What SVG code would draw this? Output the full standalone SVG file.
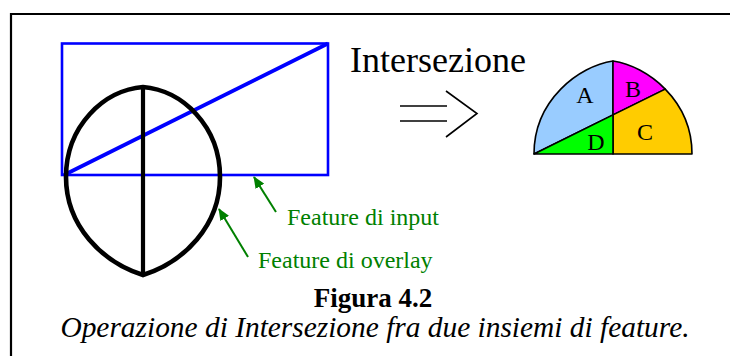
<svg xmlns="http://www.w3.org/2000/svg" width="730" height="356" viewBox="0 0 730 356">
<defs>
<style>
.serif{font-family:"Liberation Serif","Times New Roman",serif;}
.lbl{font-size:24px;fill:#000;text-anchor:middle;}
.green{fill:#008000;font-size:24px;}
.reg{stroke:#000;stroke-width:1.6;stroke-linejoin:round;}
</style>
<marker id="ah" viewBox="0 0 12 10" refX="11" refY="5" markerWidth="12" markerHeight="10" markerUnits="userSpaceOnUse" orient="auto">
<path d="M0,0 L12,5 L0,10 Z" fill="#008000"/>
</marker>
</defs>
<rect x="0" y="0" width="730" height="356" fill="#fff"/>
<path d="M11,358 V14 H732" fill="none" stroke="#000" stroke-width="2.2"/>

<g id="input-rect">
<rect x="62" y="43.5" width="266" height="131.5" fill="none" stroke="#0000ff" stroke-width="2.6"/>
<line x1="64" y1="175" x2="328" y2="43.5" stroke="#0000ff" stroke-width="3.8"/>
</g>

<g id="overlay-lens">
<path d="M143,87 C104,90 66,126 66,177 C66,226 102,262 143,275 C184,262 220,226 220,177 C220,126 182,90 143,87 Z" fill="none" stroke="#000" stroke-width="4.6" stroke-linejoin="miter"/>
<line x1="143" y1="87" x2="143" y2="275" stroke="#000" stroke-width="4.2"/>
</g>

<g id="title-intersezione">
<text x="350" y="72" class="serif" font-size="36" fill="#000">Intersezione</text>
</g>

<g id="double-arrow" fill="none" stroke="#000" stroke-width="1.6">
<line x1="400" y1="106" x2="447" y2="106"/>
<line x1="400" y1="121" x2="447" y2="121"/>
<polyline points="446,91 477,113.5 446,137"/>
</g>

<g id="result">
<path id="regA" class="reg" fill="#99ccff" d="M534,154 C534,100 579,66 613,61 L613,114.9 Z"/>
<path id="regB" class="reg" fill="#ff00ff" d="M613,61 C630,63.5 649.75,73.25 665.25,89.1 L613,114.9 Z"/>
<path id="regC" class="reg" fill="#ffcc00" d="M665.25,89.1 C680.75,105 692,127 692,154 L613,154 L613,114.9 Z"/>
<path id="regD" class="reg" fill="#00ff00" d="M534,154 L613,114.9 L613,154 Z"/>
<text x="585" y="103" class="serif lbl">A</text>
<text x="633" y="97" class="serif lbl">B</text>
<text x="645" y="140" class="serif lbl">C</text>
<text x="596" y="150" class="serif lbl">D</text>
</g>

<g id="connectors" stroke="#008000" stroke-width="2" fill="none">
<line x1="276" y1="212" x2="254" y2="177" marker-end="url(#ah)"/>
<line x1="248" y1="257" x2="219" y2="209" marker-end="url(#ah)"/>
</g>

<g id="label-input"><text x="287" y="225" class="serif green">Feature di input</text></g>
<g id="label-overlay"><text x="258" y="268" class="serif green">Feature di overlay</text></g>

<g id="caption">
<text x="373" y="307" class="serif" font-size="27" font-weight="bold" text-anchor="middle" fill="#000">Figura 4.2</text>
<text x="375" y="337" class="serif" font-size="29.4" font-style="italic" text-anchor="middle" fill="#000">Operazione di Intersezione fra due insiemi di feature.</text>
</g>
</svg>
